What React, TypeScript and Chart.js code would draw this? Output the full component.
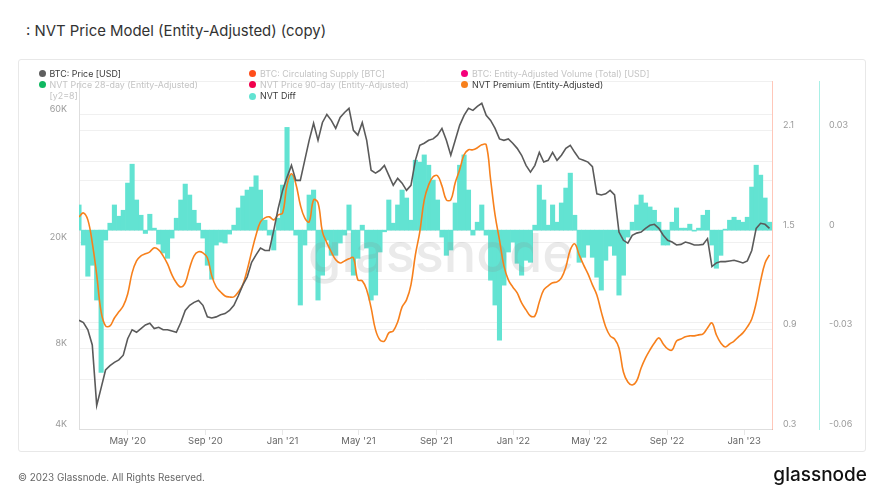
import React, { useEffect, useRef } from 'react';
import { Chart, registerables } from 'chart.js';

Chart.register(...registerables);

// ---- categories (weekly observations) ----
const START_DATE = '2020-02-14';
const END_DATE = '2023-02-14';
const STEP_DAYS = 7;

// ---- tick labels ----
const X_TICK_DATES = ['2020-05-01', '2020-09-01', '2021-01-01', '2021-05-01', '2021-09-01', '2022-01-01', '2022-05-01', '2022-09-01', '2023-01-01'];
const X_TICK_LABELS = ["May '20", "Sep '20", "Jan '21", "May '21", "Sep '21", "Jan '22", "May '22", "Sep '22", "Jan '23"];
const PRICE_TICKS = [4000, 8000, 10000, 20000, 40000, 60000];
const PRICE_TICK_LABELS = ['4K', '8K', '', '20K', '', '60K'];
const PREMIUM_TICKS = [0.3, 0.6, 0.9, 1.2, 1.5, 1.8, 2.1, 2.4];
const PREMIUM_TICK_LABELS = ['0.3', '', '0.9', '', '1.5', '', '2.1', ''];
const DIFF_TICKS = [-0.06, -0.03, 0, 0.03];
const DIFF_TICK_LABELS = ['-0.06', '-0.03', '0', '0.03'];

// ---- series values ----
const BTC_PRICE = [
  10200, 10000, 9400, 8250, 4900, 5700, 6650, 6900, 7100, 7250,
  7550, 8700, 9400, 9200, 9500, 9800, 9950, 9500, 9600, 9400,
  9400, 9300, 9200, 10000, 11100, 11600, 11900, 12100, 11600, 10500,
  10400, 10500, 10700, 10800, 11100, 11600, 12600, 13800, 14800, 16800,
  17900, 19000, 18600, 18600, 22100, 26700, 31200, 34900, 38700, 34000,
  34000, 40400, 48000, 55600, 48000, 56000, 60000, 57000, 53200, 58500,
  61000, 63200, 52300, 50200, 56000, 48000, 37100, 36200, 37100, 38700,
  35500, 32600, 34600, 33200, 31200, 32600, 40400, 46000, 46800, 48000,
  48600, 50200, 53200, 48000, 42200, 48000, 54600, 59500, 63200, 62100,
  64300, 66000, 59500, 57000, 53200, 48600, 48000, 48600, 46800, 44800,
  42200, 38700, 36500, 38700, 43300, 39800, 40400, 43300, 40400, 42200,
  44800, 46000, 43300, 41000, 40400, 39800, 38300, 30300, 30000, 30300,
  31200, 30000, 21800, 20300, 19800, 21200, 21600, 21800, 22500, 23100,
  23300, 22500, 21200, 20300, 20000, 19500, 19600, 20000, 19800, 19500,
  19500, 19600, 20600, 16200, 16700, 16900, 16900, 17000, 17100, 16900,
  16700, 17000, 18600, 22500, 23500, 23300, 22500,
];

const NVT_PREMIUM = [
  1.580, 1.604, 1.562, 1.423, 1.230, 1.007, 0.922, 0.922, 0.970, 1.007,
  1.043, 1.115, 1.242, 1.314, 1.345, 1.357, 1.369, 1.393, 1.381, 1.345,
  1.296, 1.230, 1.182, 1.157, 1.182, 1.272, 1.345, 1.369, 1.363, 1.333,
  1.224, 1.157, 1.127, 1.103, 1.097, 1.097, 1.127, 1.170, 1.260, 1.369,
  1.471, 1.550, 1.574, 1.580, 1.562, 1.592, 1.604, 1.773, 1.840, 1.779,
  1.653, 1.574, 1.550, 1.683, 1.665, 1.490, 1.423, 1.369, 1.321, 1.302,
  1.314, 1.327, 1.333, 1.200, 1.194, 1.139, 1.031, 0.898, 0.837, 0.831,
  0.880, 0.892, 0.946, 1.037, 1.079, 1.170, 1.351, 1.490, 1.683, 1.773,
  1.822, 1.828, 1.767, 1.683, 1.683, 1.786, 1.864, 1.955, 1.985, 1.985,
  1.997, 2.015, 2.015, 1.804, 1.592, 1.441, 1.284, 1.200, 1.157, 1.121,
  1.061, 1.019, 0.982, 0.982, 1.067, 1.139, 1.164, 1.182, 1.188, 1.212,
  1.278, 1.381, 1.417, 1.351, 1.290, 1.236, 1.170, 1.109, 1.007, 0.916,
  0.862, 0.843, 0.789, 0.644, 0.584, 0.566, 0.590, 0.668, 0.729, 0.777,
  0.819, 0.850, 0.813, 0.783, 0.777, 0.831, 0.843, 0.856, 0.862, 0.862,
  0.868, 0.874, 0.910, 0.940, 0.868, 0.819, 0.795, 0.813, 0.831, 0.856,
  0.880, 0.916, 0.964, 1.061, 1.194, 1.302, 1.351,
];

const NVT_DIFF = [
  0.0076, -0.0045, -0.0139, -0.0106, -0.0211, -0.0429, -0.0030, 0.0021, 0.0076, 0.0042,
  0.0060, 0.0142, 0.0199, 0.0091, 0.0045, -0.0010, 0.0048, 0.0006, -0.0042, -0.0069,
  -0.0085, -0.0024, 0.0036, 0.0091, 0.0139, 0.0106, 0.0060, 0.0021, -0.0024, -0.0106,
  -0.0148, -0.0045, -0.0036, -0.0039, -0.0012, 0.0015, 0.0067, 0.0103, 0.0121, 0.0130,
  0.0164, 0.0121, 0.0030, -0.0015, -0.0060, 0.0036, 0.0136, 0.0310, 0.0166, -0.0015,
  -0.0226, -0.0045, 0.0106, 0.0121, -0.0211, -0.0136, -0.0030, -0.0076, -0.0076, -0.0039,
  -0.0015, 0.0076, -0.0136, -0.0085, 0.0015, -0.0054, -0.0211, -0.0196, -0.0066, -0.0005,
  0.0091, 0.0021, 0.0076, 0.0121, 0.0097, 0.0030, 0.0211, 0.0205, 0.0227, 0.0196,
  0.0151, 0.0091, -0.0021, -0.0076, -0.0060, 0.0082, 0.0196, 0.0227, 0.0121, -0.0015,
  0.0024, 0.0076, -0.0015, -0.0151, -0.0226, -0.0332, -0.0166, -0.0066, -0.0036, -0.0100,
  -0.0136, -0.0091, -0.0097, 0.0015, 0.0136, 0.0091, 0.0015, 0.0076, 0.0024, 0.0082,
  0.0127, 0.0172, 0.0045, -0.0097, -0.0082, -0.0045, -0.0082, -0.0142, -0.0181, -0.0091,
  -0.0048, -0.0076, -0.0196, -0.0136, -0.0021, 0.0024, 0.0076, 0.0106, 0.0082, 0.0070,
  0.0060, 0.0024, -0.0045, -0.0045, 0.0024, 0.0067, 0.0006, 0.0006, 0.0018, -0.0003,
  0.0006, 0.0045, 0.0060, -0.0045, -0.0115, -0.0076, 0.0003, 0.0030, 0.0039, 0.0030,
  0.0024, 0.0039, 0.0130, 0.0196, 0.0166, 0.0097, 0.0024,
];

// ---- legend ----
const LEGEND_ITEMS = [
  { label: 'BTC: Price [USD]', color: '#5f5f5f', active: true, col: 0, row: 0 },
  { label: 'BTC: Circulating Supply [BTC]', color: '#ff4d1a', active: false, col: 1, row: 0 },
  { label: 'BTC: Entity-Adjusted Volume (Total) [USD]', color: '#f5007a', active: false, col: 2, row: 0 },
  { label: 'NVT Price 28-day (Entity-Adjusted)', label2: '[y2=8]', color: '#10b861', active: false, col: 0, row: 1 },
  { label: 'NVT Price 90-day (Entity-Adjusted)', color: '#f0004c', active: false, col: 1, row: 1 },
  { label: 'NVT Premium (Entity-Adjusted)', color: '#f7801c', active: true, col: 2, row: 1 },
  { label: 'NVT Diff', color: '#62e3d2', active: true, col: 1, row: 2 },
];

const DAY_MS = 86400000;
const dayOffset = (d: string) => (Date.parse(d) - Date.parse(START_DATE)) / DAY_MS;

const FONT = 'Inter, "Noto Sans", sans-serif';

export default function App() {
  const ref = useRef<HTMLCanvasElement | null>(null);

  useEffect(() => {
    if (!ref.current) return;
    const xs = BTC_PRICE.map((_, i) => i * STEP_DAYS);
    const priceData = BTC_PRICE.map((v, i) => ({ x: xs[i], y: v }));
    const premData = NVT_PREMIUM.map((v, i) => ({ x: xs[i], y: v }));
    const diffData = NVT_DIFF.map((v, i) => ({ x: xs[i], y: v }));

    const watermark = {
      id: 'watermark',
      afterDatasetDraw(chart: any, args: any) {
        if (args.index !== 2) return;
        const { ctx, chartArea } = chart;
        ctx.save();
        ctx.font = `500 54px ${FONT}`;
        ctx.fillStyle = 'rgba(140,140,140,0.18)';
        ctx.textAlign = 'center';
        ctx.textBaseline = 'alphabetic';
        ctx.fillText('glassnode', chartArea.left + 362, chartArea.top + 191);
        ctx.restore();
      },
    };

    const chart = new Chart(ref.current, {
      type: 'line',
      data: {
        datasets: [
          {
            type: 'line',
            label: 'BTC: Price [USD]',
            data: priceData,
            yAxisID: 'yPrice',
            borderColor: '#5a5a5a',
            borderWidth: 1.6,
            pointRadius: 0,
            tension: 0,
            order: 0,
          },
          {
            type: 'line',
            label: 'NVT Premium (Entity-Adjusted)',
            data: premData,
            yAxisID: 'yPrem',
            borderColor: '#f7801c',
            borderWidth: 1.6,
            pointRadius: 0,
            tension: 0.4,
            order: 1,
          },
          {
            type: 'bar',
            label: 'NVT Diff',
            data: diffData,
            yAxisID: 'yDiff',
            backgroundColor: '#62e3d2',
            borderWidth: 0,
            barPercentage: 1,
            categoryPercentage: 1,
            order: 2,
          } as any,
        ],
      },
      options: {
        responsive: false,
        animation: false,
        events: [],
        layout: { padding: { top: 81, left: 0, right: 0, bottom: 0 } },
        plugins: { legend: { display: false }, tooltip: { enabled: false } },
        scales: {
          x: {
            type: 'linear',
            min: 0,
            max: dayOffset(END_DATE),
            offset: false,
            afterBuildTicks: (s: any) => {
              s.ticks = X_TICK_DATES.map((d) => ({ value: dayOffset(d) }));
            },
            afterFit: (s: any) => {
              s.height = 69;
            },
            ticks: {
              autoSkip: false,
              maxRotation: 0,
              padding: 0,
              color: '#666',
              font: { family: FONT, size: 9.5 },
              callback: (_v: any, i: number) => X_TICK_LABELS[i],
            },
            grid: { offset: false, drawOnChartArea: false, drawTicks: true, tickLength: 6, color: '#e8e8e8' },
            border: { display: true, color: '#dedede' },
          },
          yPrice: {
            type: 'logarithmic',
            position: 'left',
            min: 4000,
            max: 80000,
            afterBuildTicks: (s: any) => {
              s.ticks = PRICE_TICKS.map((v) => ({ value: v }));
            },
            afterFit: (s: any) => {
              s.width = 79;
            },
            ticks: {
              autoSkip: false,
              padding: 12,
              labelOffset: -5,
              color: '#9a9a9a',
              font: { family: FONT, size: 9 },
              callback: (_v: any, i: number) => PRICE_TICK_LABELS[i],
            },
            grid: { drawTicks: false, color: '#f0f0f0' },
            border: { display: true, color: '#dedede' },
          },
          yPrem: {
            type: 'linear',
            position: 'right',
            weight: 0,
            min: 0.3,
            max: 2.4,
            afterBuildTicks: (s: any) => {
              s.ticks = PREMIUM_TICKS.map((v) => ({ value: v }));
            },
            afterFit: (s: any) => {
              s.width = 47;
            },
            ticks: {
              autoSkip: false,
              padding: 11,
              labelOffset: -5,
              color: '#9a9a9a',
              font: { family: FONT, size: 9 },
              callback: (_v: any, i: number) => PREMIUM_TICK_LABELS[i],
            },
            grid: { drawTicks: false, color: '#f0f0f0' },
            border: { display: true, color: 'rgba(255,130,100,0.45)' },
          },
          yDiff: {
            type: 'linear',
            position: 'right',
            weight: 1,
            min: -0.06,
            max: 0.045,
            afterBuildTicks: (s: any) => {
              s.ticks = DIFF_TICKS.map((v) => ({ value: v }));
            },
            afterFit: (s: any) => {
              s.width = 67;
            },
            ticks: {
              autoSkip: false,
              padding: 10,
              labelOffset: -5,
              color: '#9a9a9a',
              font: { family: FONT, size: 9 },
              callback: (_v: any, i: number) => DIFF_TICK_LABELS[i],
            },
            grid: { display: false, drawTicks: false },
            border: { display: true, color: 'rgba(98,227,210,0.55)' },
          },
        },
      },
      plugins: [watermark],
    } as any);
    return () => chart.destroy();
  }, []);

  const colX = [38.5, 249, 461];
  const rowY = [67.5, 78.5, 90];

  return (
    <div style={{ position: 'fixed', left: 0, top: 0, width: 886, height: 498, background: '#fff', fontFamily: FONT, overflow: 'hidden' }}>
      <div style={{ position: 'absolute', left: 26, top: 22, fontSize: 14.9, lineHeight: '19px', color: '#333', whiteSpace: 'nowrap' }}>
        : NVT Price Model (Entity-Adjusted) (copy)
      </div>
      <div style={{ position: 'absolute', left: 18, top: 59, width: 848, height: 393, border: '1px solid #e8e8e8', borderRadius: 3, boxSizing: 'border-box' }} />
      <canvas ref={ref} width={886} height={498} style={{ position: 'absolute', left: 0, top: 0, width: 886, height: 498 }} />
      {LEGEND_ITEMS.map((it, k) => (
        <div key={k} style={{ position: 'absolute', left: colX[it.col], top: rowY[it.row], fontSize: 8.9, lineHeight: '11px', color: it.active ? '#3a3a3a' : '#c4c4c4', whiteSpace: 'nowrap' }}>
          <span style={{ display: 'inline-block', width: 7, height: 7, borderRadius: '50%', background: it.color, marginRight: 4, verticalAlign: '-0.5px' }} />
          {it.label}
          {it.label2 ? (
            <div style={{ paddingLeft: 11 }}>{it.label2}</div>
          ) : null}
        </div>
      ))}
      <div style={{ position: 'absolute', left: 18, top: 469.5, fontSize: 9.9, lineHeight: '14px', color: '#666', whiteSpace: 'nowrap' }}>
        © 2023 Glassnode. All Rights Reserved.
      </div>
      <div style={{ position: 'absolute', right: 19, top: 464, fontSize: 19, lineHeight: '22px', fontWeight: 500, color: '#111' }}>
        glassnode
      </div>
    </div>
  );
}
